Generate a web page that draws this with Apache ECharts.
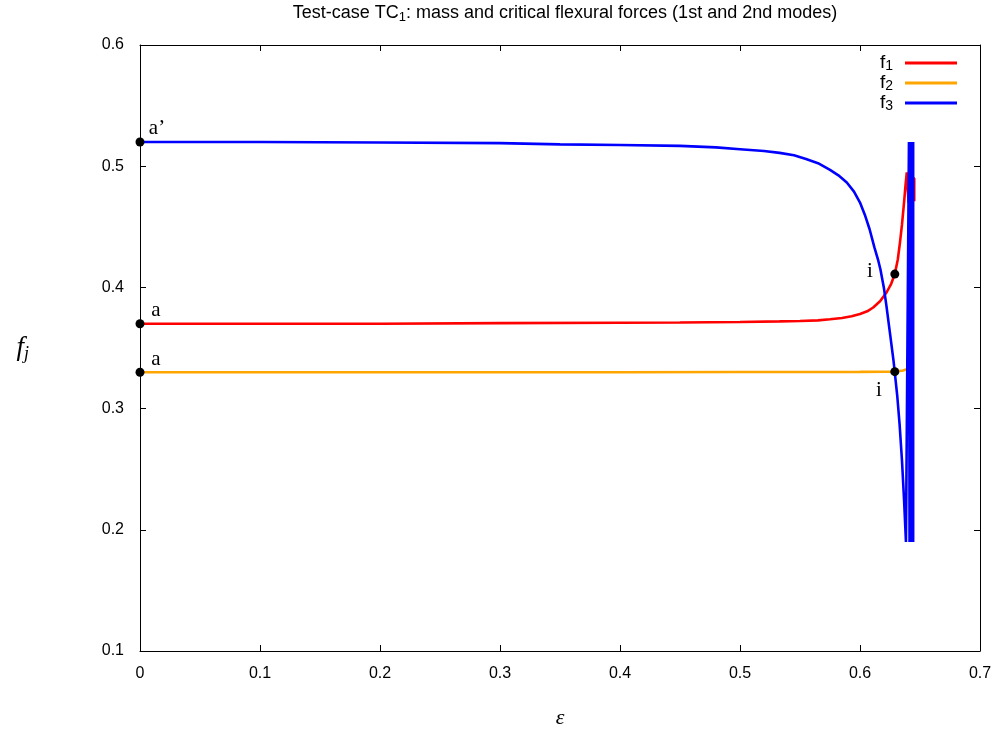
<!DOCTYPE html>
<html>
<head>
<meta charset="utf-8">
<script src="https://cdn.jsdelivr.net/npm/echarts@6/dist/echarts.min.js"></script>
<style>html,body{margin:0;padding:0;background:#fff}#c{width:998px;height:734px}</style>
</head>
<body>
<div id="c"></div>
<script>
// ---- data ----
var xTicks = [0, 0.1, 0.2, 0.3, 0.4, 0.5, 0.6, 0.7];
var yTicks = [0.1, 0.2, 0.3, 0.4, 0.5, 0.6];

var f1Eps = [0, 0.1, 0.2, 0.3, 0.4, 0.45, 0.5, 0.533, 0.55, 0.565, 0.575, 0.585, 0.593, 0.6, 0.606, 0.611, 0.6167, 0.6222, 0.626, 0.629, 0.6315, 0.6333, 0.635, 0.6367, 0.638, 0.639, 0.6405, 0.6425, 0.6452, 0.6452];
var f1Val = [0.370, 0.370, 0.370, 0.3705, 0.3708, 0.371, 0.3715, 0.372, 0.3723, 0.3728, 0.3737, 0.3748, 0.3762, 0.378, 0.3803, 0.3834, 0.3885, 0.396, 0.403, 0.411, 0.423, 0.437, 0.452, 0.470, 0.485, 0.495, 0.47, 0.49, 0.49, 0.471];

var f2Eps = [0, 0.2, 0.4, 0.5, 0.6, 0.62, 0.629, 0.636, 0.64, 0.642];
var f2Val = [0.330, 0.330, 0.330, 0.3302, 0.3303, 0.3304, 0.3305, 0.3315, 0.3328, 0.3332];

var f3Eps = [0, 0.1, 0.2, 0.3, 0.35, 0.4, 0.45, 0.48, 0.5, 0.52, 0.533, 0.545, 0.555, 0.565, 0.575, 0.582, 0.589, 0.595, 0.6, 0.604, 0.608, 0.612, 0.615, 0.617, 0.62, 0.622, 0.625, 0.628, 0.631, 0.633, 0.635, 0.6367, 0.6383, 0.6408, 0.6413, 0.6418, 0.6423, 0.6428, 0.6433, 0.6438, 0.6443, 0.6443];
var f3Val = [0.520, 0.520, 0.5195, 0.519, 0.518, 0.5175, 0.5168, 0.5155, 0.514, 0.5125, 0.511, 0.509, 0.506, 0.5025, 0.497, 0.4925, 0.4865, 0.479, 0.470, 0.460, 0.448, 0.433, 0.423, 0.415, 0.399, 0.385, 0.362, 0.339, 0.311, 0.287, 0.257, 0.225, 0.19, 0.52, 0.19, 0.52, 0.19, 0.52, 0.19, 0.52, 0.19, 0.52];

var markEps = [0, 0, 0, 0.629, 0.629];
var markVal = [0.52, 0.37, 0.33, 0.411, 0.3305];
var markLbl = ["a\u2019", "a", "a", "i", "i"];
var markPos = ["a1", "a2", "a2", "iL", "iB"];

var seriesNames = ["f1", "f2", "f3"];
var seriesColors = ["#ff0000", "#ffa500", "#0000ff"];

function pairs(xs, ys) { return xs.map(function (x, i) { return [x, ys[i]]; }); }

var labelOffsets = { a1: [17, -13], a2: [16, -13], iL: [-25, -3], iB: [-16, 19] };

var markData = markEps.map(function (x, i) {
  return {
    value: [x, markVal[i]],
    label: { show: true, formatter: markLbl[i], position: 'inside', offset: labelOffsets[markPos[i]] }
  };
});

var chart = echarts.init(document.getElementById('c'), null, { renderer: 'canvas' });
var sans = 'Liberation Sans, Arial, sans-serif';
var serif = 'Liberation Serif, DejaVu Serif, serif';

var baseAxis = {
  axisLine: { show: true, onZero: false, lineStyle: { color: '#000', width: 1 } },
  axisTick: { show: true, inside: true, length: 6, lineStyle: { color: '#000' } },
  splitLine: { show: false }
};

var option = {
  animation: false,
  backgroundColor: '#fff',
  title: {
    text: '{t|Test-case TC}{s|1}{t|: mass and critical flexural forces (1st and 2nd modes)}',
    left: 560, top: -3, textAlign: 'center',
    textStyle: {
      rich: {
        t: { fontFamily: sans, fontSize: 18, color: '#000', fontWeight: 'normal' },
        s: { fontFamily: sans, fontSize: 13, color: '#000', fontWeight: 'normal', verticalAlign: 'bottom', padding: [9, 0, 0, 0] }
      }
    }
  },
  grid: { left: 140, right: 18, top: 45, bottom: 80, containLabel: false },
  legend: {
    data: seriesNames,
    orient: 'vertical', right: 41, top: 49, align: 'right', padding: 0,
    itemWidth: 52, itemHeight: 3, itemGap: -4,
    icon: 'rect',
    formatter: function (n) { return '{n|f}{s|' + n.slice(1) + '}'; },
    textStyle: {
      rich: {
        n: { fontFamily: sans, fontSize: 19, color: '#000', lineHeight: 20 },
        s: { fontFamily: sans, fontSize: 14, color: '#000', verticalAlign: 'bottom', padding: [10, 7, 0, 0], lineHeight: 20 }
      }
    }
  },
  xAxis: [
    Object.assign({}, baseAxis, {
      type: 'value', min: 0, max: 0.7, interval: 0.1, position: 'bottom',
      axisLabel: { margin: 15, color: '#000', fontFamily: sans, fontSize: 16,
        formatter: function (v) { return v === 0 ? '0' : v.toFixed(1); } },
      name: '\u03b5', nameLocation: 'middle', nameGap: 56,
      nameTextStyle: { fontFamily: serif, fontStyle: 'italic', fontSize: 22, color: '#000' }
    }),
    Object.assign({}, baseAxis, {
      type: 'value', min: 0, max: 0.7, interval: 0.1, position: 'top',
      axisLabel: { show: false }
    })
  ],
  yAxis: [
    Object.assign({}, baseAxis, {
      type: 'value', min: 0.1, max: 0.6, interval: 0.1, position: 'left',
      axisLabel: { margin: 16, color: '#000', fontFamily: sans, fontSize: 16,
        formatter: function (v) { return v.toFixed(1); } },
      name: '{i|f}{j|j}', nameLocation: 'middle', nameGap: 111, nameRotate: 0,
      nameTextStyle: {
        rich: {
          i: { fontFamily: serif, fontStyle: 'italic', fontSize: 27, color: '#000' },
          j: { fontFamily: serif, fontStyle: 'italic', fontSize: 18, color: '#000', verticalAlign: 'bottom', padding: [12, 0, 0, 0] }
        }
      }
    }),
    Object.assign({}, baseAxis, {
      type: 'value', min: 0.1, max: 0.6, interval: 0.1, position: 'right',
      axisLabel: { show: false }
    })
  ],
  series: [
    { name: 'f1', type: 'line', data: pairs(f1Eps, f1Val), showSymbol: false, symbol: 'none', color: seriesColors[0], lineStyle: { width: 2.6, color: seriesColors[0] } },
    { name: 'f2', type: 'line', data: pairs(f2Eps, f2Val), showSymbol: false, symbol: 'none', color: seriesColors[1], lineStyle: { width: 2.6, color: seriesColors[1] } },
    { name: 'f3', type: 'line', data: pairs(f3Eps, f3Val), showSymbol: false, symbol: 'none', color: seriesColors[2], lineStyle: { width: 2.6, color: seriesColors[2] } },
    {
      name: 'points', type: 'scatter', data: markData, symbol: 'circle', symbolSize: 9,
      itemStyle: { color: '#000', opacity: 1 }, z: 10,
      label: { color: '#000', opacity: 1, fontFamily: serif, fontSize: 21 }
    }
  ]
};
chart.setOption(option);
</script>
</body>
</html>
